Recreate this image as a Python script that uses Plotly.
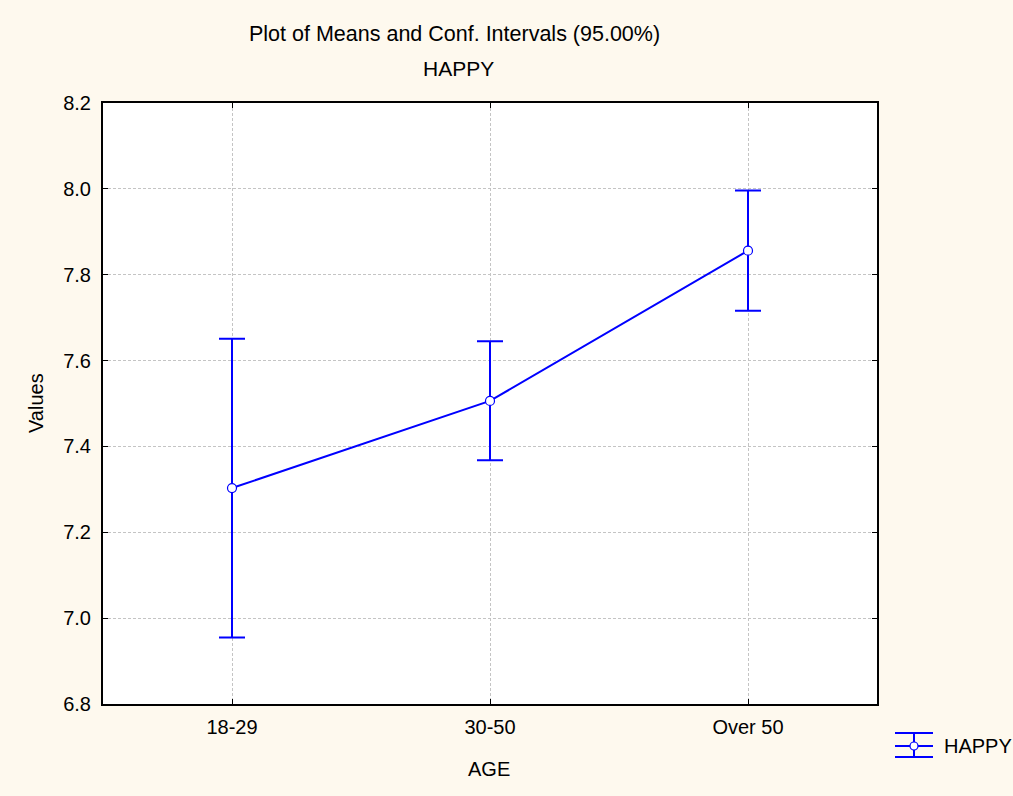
import plotly.graph_objects as go

categories = ["18-29", "30-50", "Over 50"]
means = [7.303, 7.506, 7.856]
upper = [7.651, 7.645, 7.996]
lower = [6.955, 7.368, 7.716]
y_ticks = [6.8, 7.0, 7.2, 7.4, 7.6, 7.8, 8.0, 8.2]
series_name = "HAPPY"

err_plus = [u - m for u, m in zip(upper, means)]
err_minus = [m - l for m, l in zip(means, lower)]

# page geometry (pixels in browser window)
OX, OY = 6, 4                 # figure origin in page
W, H = 1013 - OX, 796 - OY    # figure size
PL, PR, PT, PB = 103, 877, 103, 704   # plot frame in page pixels
BG = "#FEF9EE"
BLUE = "#0000FF"
FONT = "Liberation Sans, Arial, sans-serif"

def px(x):
    return (x - PL) / (PR - PL)

def py(y):
    return (PB - y) / (PB - PT)

fig = go.Figure()
fig.add_trace(go.Scatter(
    x=categories, y=means, mode="lines+markers", name=series_name,
    line=dict(color=BLUE, width=2),
    marker=dict(symbol="circle", size=9, color="white", line=dict(color=BLUE, width=1.2)),
    error_y=dict(type="data", symmetric=False, array=err_plus, arrayminus=err_minus,
                 color=BLUE, thickness=2, width=13),
    showlegend=False,
))

axis_common = dict(
    showline=True, linecolor="black", linewidth=2, mirror="allticks",
    ticks="inside", ticklen=5, tickcolor="black", tickwidth=1,
    showgrid=True, gridcolor="#C4C4C4", griddash="3px,2px", gridwidth=1,
    zeroline=False, tickfont=dict(family=FONT, size=20, color="black"),
)

fig.update_xaxes(type="category", range=[-0.5, 2.5], ticklabelstandoff=4, **axis_common)
fig.update_yaxes(range=[6.8, 8.2], tickvals=y_ticks, ticklabelstandoff=6,
                 ticktext=[f"{v:.1f}" for v in y_ticks], **axis_common)

def ann(text, x, y, size=20, anchor="center", angle=0):
    return dict(text=text, x=px(x), y=py(y), textangle=angle,
                xref="paper", yref="paper", showarrow=False,
                xanchor=anchor, yanchor="middle",
                font=dict(family=FONT, size=size, color="black"))

annotations = [
    ann("Plot of Means and Conf. Intervals (95.00%)", 454, 34, size=21.5),
    ann("HAPPY", 458, 68, size=21),
    ann("Values", 36, 403, angle=-90),
    ann("AGE", 489, 769),
    ann(series_name, 942, 746, anchor="left"),
]

shapes = []
for yy in (733, 746, 757):
    shapes.append(dict(type="line", xref="paper", yref="paper",
                       x0=px(895), x1=px(933), y0=py(yy), y1=py(yy),
                       line=dict(color=BLUE, width=2)))
shapes.append(dict(type="line", xref="paper", yref="paper",
                   x0=px(914), x1=px(914), y0=py(733), y1=py(757),
                   line=dict(color=BLUE, width=2)))
shapes.append(dict(type="circle", xref="paper", yref="paper",
                   x0=px(910), x1=px(918), y0=py(742), y1=py(750),
                   fillcolor="white", line=dict(color=BLUE, width=1.2)))

fig.update_layout(
    width=W, height=H,
    margin=dict(l=PL - OX, r=(OX + W) - PR, t=PT - OY, b=(OY + H) - PB),
    paper_bgcolor=BG, plot_bgcolor="white",
    annotations=annotations, shapes=shapes,
    font=dict(family=FONT, size=20, color="black"),
)

post = (f"document.body.style.margin='{OY}px 0 0 {OX}px';"
        "document.body.style.overflow='hidden';"
        f"document.documentElement.style.background='{BG}';")
fig.write_html("out.html", post_script=post)
